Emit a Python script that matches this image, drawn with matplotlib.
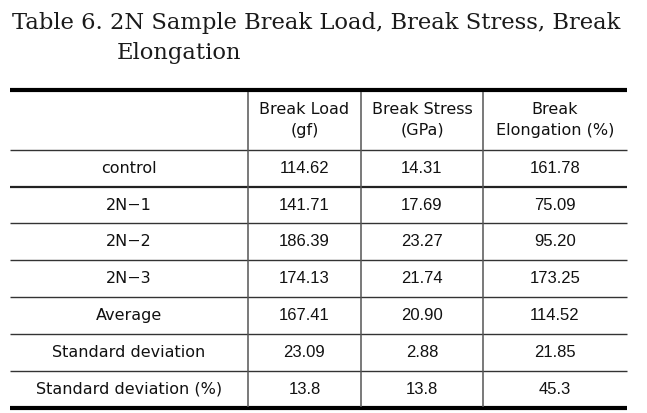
import matplotlib
matplotlib.use("Agg")
import matplotlib.pyplot as plt

title_line1 = "Table 6. 2N Sample Break Load, Break Stress, Break"
title_line2 = "Elongation"

col_headers = ["", "Break Load\n(gf)", "Break Stress\n(GPa)", "Break\nElongation (%)"]
row_labels = ["control", "2N\u22121", "2N\u22122", "2N\u22123", "Average",
              "Standard deviation", "Standard deviation (%)"]
break_load = ["114.62", "141.71", "186.39", "174.13", "167.41", "23.09", "13.8"]
break_stress = ["14.31", "17.69", "23.27", "21.74", "20.90", "2.88", "13.8"]
break_elong = ["161.78", "75.09", "95.20", "173.25", "114.52", "21.85", "45.3"]

# layout in pixels
col_edges = [10, 248, 361, 483, 627]
row_edges = [90, 150, 187, 223, 260, 297, 334, 371, 408]

W, H = 647, 413
fig = plt.figure(figsize=(W / 100, H / 100), dpi=100)
ax = fig.add_axes([0, 0, 1, 1])
ax.set_xlim(0, W)
ax.set_ylim(H, 0)
ax.axis("off")

serif = "DejaVu Serif"
sans_txt = "DejaVu Sans"
sans_num = "Liberation Sans"

ax.text(12, 29, title_line1, fontsize=16.3, family=serif, va="baseline", ha="left", color="#1a1a1a")
ax.text(117, 59, title_line2, fontsize=16.3, family=serif, va="baseline", ha="left", color="#1a1a1a")

# horizontal rules
ax.hlines(row_edges[0], col_edges[0], col_edges[-1], color="black", lw=3.0)
ax.hlines(row_edges[-1], col_edges[0], col_edges[-1], color="black", lw=3.0)
ax.hlines(row_edges[2], col_edges[0], col_edges[-1], color="#222222", lw=1.6)
for i, y in enumerate(row_edges[1:-1]):
    if i + 1 == 2:
        continue
    ax.hlines(y, col_edges[0], col_edges[-1], color="#333333", lw=1.0)

# vertical rules
for x in col_edges[1:-1]:
    ax.vlines(x, row_edges[0] + 1.5, row_edges[-1] - 1.5, color="#555555", lw=1.1)

xc = [(col_edges[i] + col_edges[i + 1]) / 2 for i in range(4)]
yc = [(row_edges[i] + row_edges[i + 1]) / 2 for i in range(len(row_edges) - 1)]

for j, hdr in enumerate(col_headers):
    ax.text(xc[j], yc[0], hdr, fontsize=11.5, family=sans_txt, ha="center", va="center",
            linespacing=1.45, color="#111111")

for i, lab in enumerate(row_labels):
    y = yc[i + 1]
    ax.text(xc[0], y, lab, fontsize=11.5, family=sans_txt, ha="center", va="center", color="#111111")
    vals = [break_load[i], break_stress[i], break_elong[i]]
    for j, v in enumerate(vals):
        ax.text(xc[j + 1], y, v, fontsize=12, family=sans_num, ha="center", va="center", color="#111111")

fig.savefig("out.png", dpi=100)
